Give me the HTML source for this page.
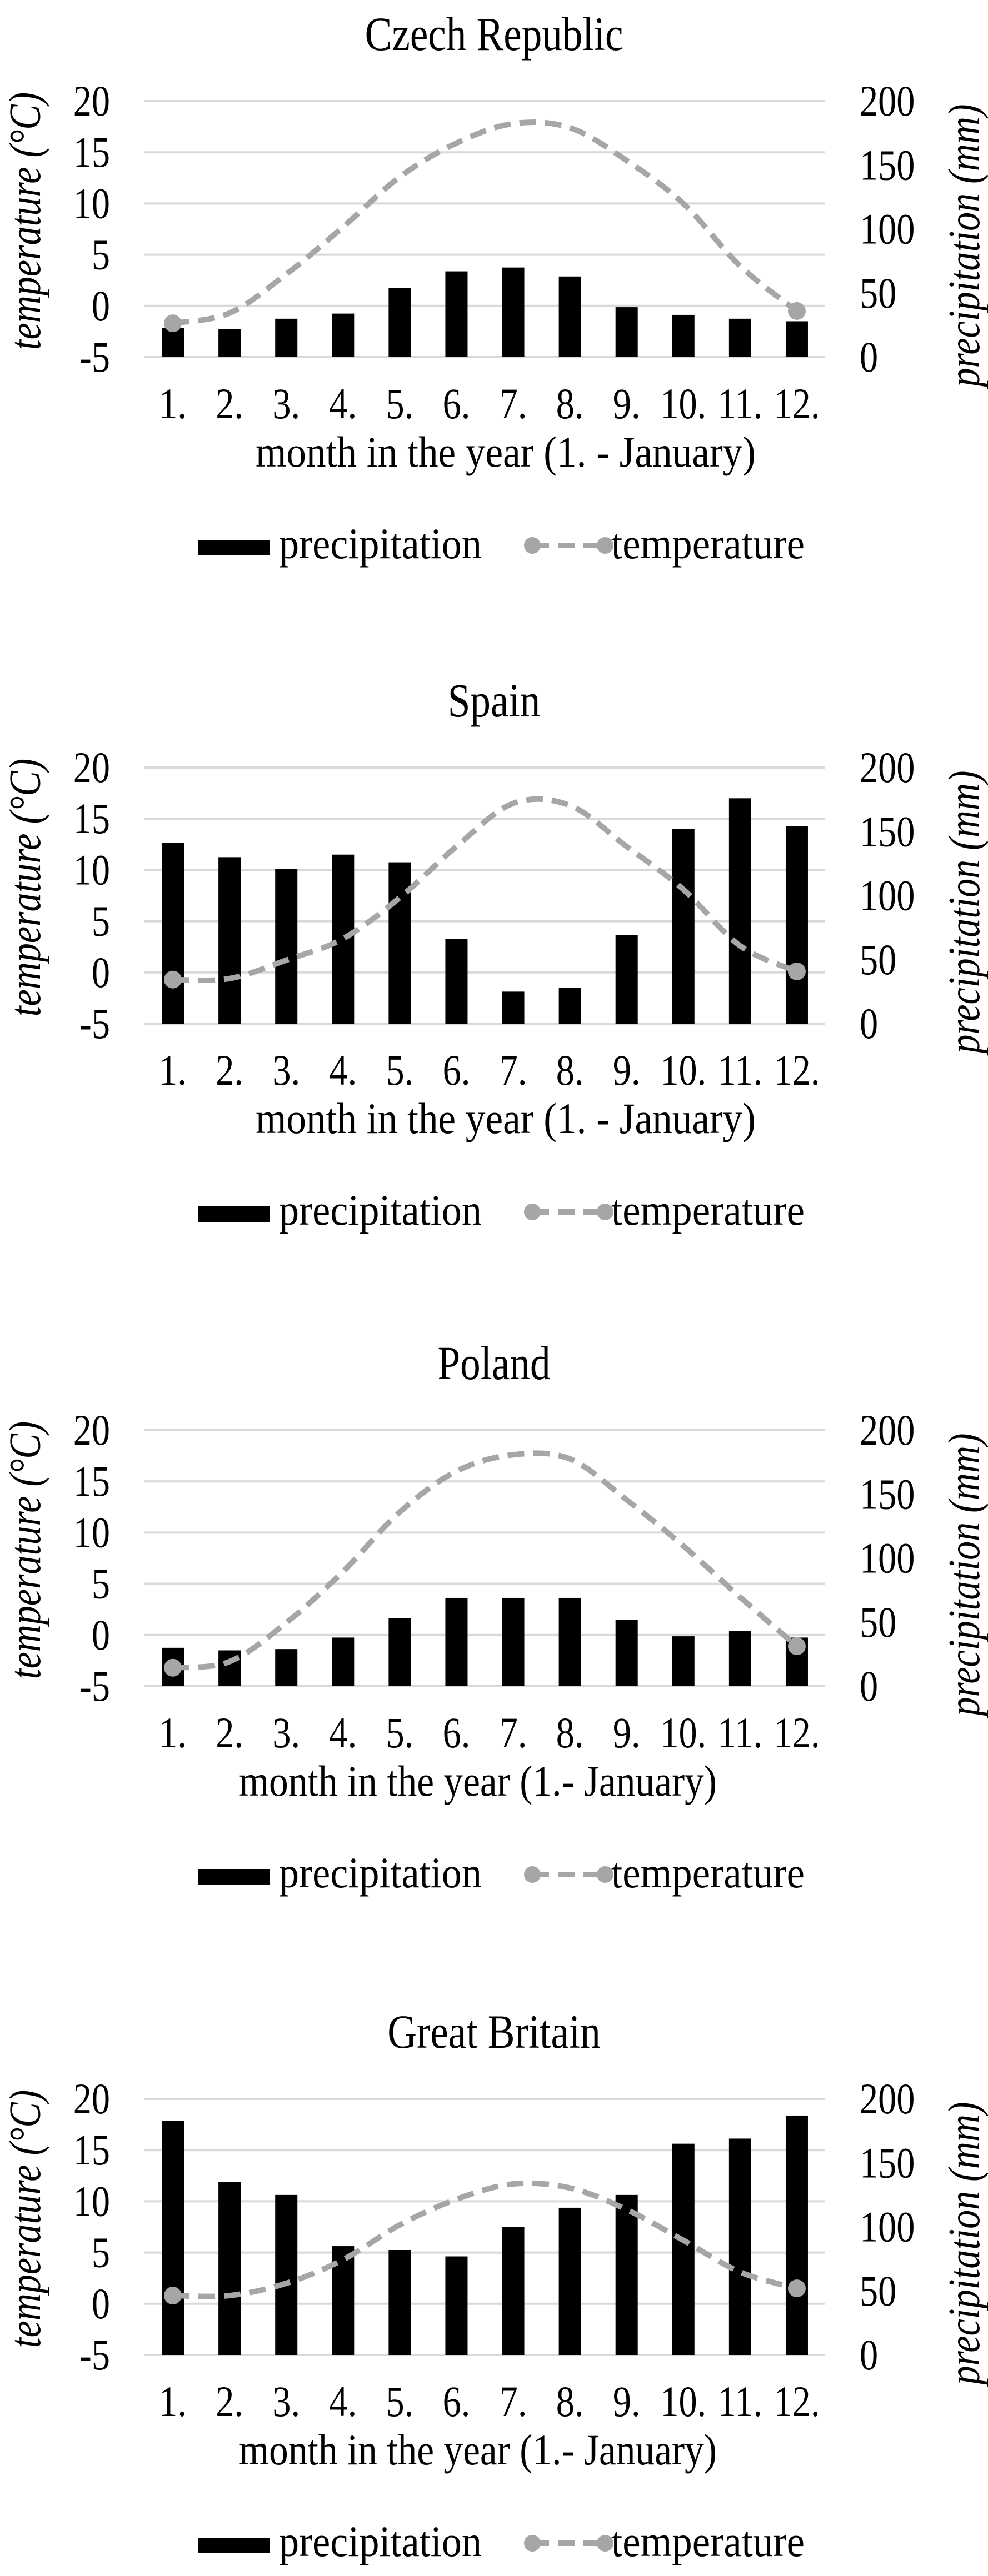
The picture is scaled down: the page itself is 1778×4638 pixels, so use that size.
<!DOCTYPE html>
<html><head><meta charset="utf-8"><style>
html,body{margin:0;padding:0;background:#fff;}
svg{display:block;font-family:"Liberation Serif",serif;}
</style></head><body>
<svg id="chart" width="1778" height="4638" viewBox="0 0 1778 4638" xmlns="http://www.w3.org/2000/svg"></svg>
<script>
const countries = ["Czech Republic","Spain","Poland","Great Britain"];
const xTitles = ["month in the year (1. - January)","month in the year (1. - January)","month in the year (1.- January)","month in the year (1.- January)"];
const months = ["1.","2.","3.","4.","5.","6.","7.","8.","9.","10.","11.","12."];
const tempTicks = [-5,0,5,10,15,20];
const precTicks = [0,50,100,150,200];
const precCZ = [23,22,30,34,54,67,70,63,39,33,30,28];
const tempCZ = [-1.7,-0.7,3.1,7.7,12.6,15.9,17.8,17.4,14.2,10,3.9,-0.5];
const precES = [141,130,121,132,126,66,25,28,69,152,176,154];
const tempES = [-0.7,-0.6,1.2,3.3,7.3,12.3,16.5,16.3,12.3,8.1,2.6,0.1];
const precPL = [30,28,29,38,53,69,69,69,52,39,43,38];
const tempPL = [-3.2,-2.6,1.2,6.2,12,16,17.6,17.2,13.2,8.7,3.7,-1.1];
const precGB = [183,135,125,85,82,77,100,115,125,165,169,187];
const tempGB = [0.8,0.8,2,4.3,7.7,10.2,11.7,11.3,9.2,6.2,3.1,1.5];
const precAll = [precCZ,precES,precPL,precGB];
const tempAll = [tempCZ,tempES,tempPL,tempGB];

const NS="http://www.w3.org/2000/svg";
const svg=document.getElementById('chart');
function mk(tag,attrs,parent,text){const e=document.createElementNS(NS,tag);for(const k in attrs)e.setAttribute(k,attrs[k]);if(text!==undefined)e.textContent=text;(parent||svg).appendChild(e);return e;}
// condensed text helper: tall narrow glyphs like the reference
function ctext(x,y,str,anchor,parent,extra,rot){
  const a=Object.assign({x:0,y:0,'text-anchor':anchor,'font-size':78,transform:`translate(${x},${y})${rot?' rotate(-90)':''} scale(0.85,1)`},extra||{});
  return mk('text',a,parent,str);
}
const offsets=[0,1200,2393,3597];
const X0=260,X1=1485,TOP=182,BOT=643;
const bw=(X1-X0)/12;
function xC(i){return X0+bw*(i+0.5);}
function yT(t,o){return o+BOT-(t+5)/25*(BOT-TOP);}
function yP(p,o){return o+BOT-p/200*(BOT-TOP);}

countries.forEach((name,ci)=>{
  const o=offsets[ci];
  const g=mk('g',{});
  
  
  const t=ctext(889,o+90,name,'middle',g,{'font-size':86});
  
  
  tempTicks.forEach(v=>{
    const y=yT(v,o);
    const l=mk('line',{x1:X0,x2:X1,y1:y,y2:y,stroke:'#d9d9d9','stroke-width':4},g);
    
    
    const tx=ctext(198,y+26,String(v),'end',g);
    
    
  });
  precTicks.forEach(v=>{
    const tx=ctext(1547,yP(v,o)+26,String(v),'start',g);
    
    
  });
  const lt=ctext(72,o+398,'temperature (°C)','middle',g,{'font-style':'italic','font-size':80},true);
  
  
  const rt=ctext(1762,o+442,'precipitation (mm)','middle',g,{'font-style':'italic','font-size':80},true);
  
  
  precAll[ci].forEach((p,i)=>{
    const y=yP(p,o);
    const r=mk('rect',{x:xC(i)-20,y:y,width:40,height:yP(0,o)-y,fill:'#000'},g);
    
    
  });
  months.forEach((m,i)=>{
    const tx=ctext(xC(i),o+753,m,'middle',g);
    
    
  });
  const xt=mk('text',{x:460,y:o+840,'font-size':78,textLength:ci<2?900:860,lengthAdjust:'spacingAndGlyphs'},g,xTitles[ci]);
  if(ci>=2) xt.setAttribute('x',430);
  
  
  const pts=tempAll[ci].map((v,i)=>[xC(i),yT(v,o)]);
  let d=`M${pts[0][0]},${pts[0][1]}`;
  for(let i=0;i<pts.length-1;i++){
    const p0=pts[Math.max(0,i-1)],p1=pts[i],p2=pts[i+1],p3=pts[Math.min(pts.length-1,i+2)];
    const c1=[p1[0]+(p2[0]-p0[0])/6,p1[1]+(p2[1]-p0[1])/6];
    const c2=[p2[0]-(p3[0]-p1[0])/6,p2[1]-(p3[1]-p1[1])/6];
    d+=` C${c1[0]},${c1[1]} ${c2[0]},${c2[1]} ${p2[0]},${p2[1]}`;
  }
  const path=mk('path',{d:d,fill:'none',stroke:'#a6a6a6','stroke-width':10,'stroke-dasharray':'30,16'},g);
  
  
  [0,11].forEach(i=>{
    const c=mk('circle',{cx:pts[i][0],cy:pts[i][1],r:16,fill:'#a6a6a6'},g);
    
    
  });
  const ly=o+986;
  const sw=mk('rect',{x:356,y:ly-14,width:129,height:28,fill:'#000'},g);
  
  
  const lp=mk('text',{x:502,y:o+1005,'font-size':78,textLength:365,lengthAdjust:'spacingAndGlyphs'},g,'precipitation');
  
  
  const ll=mk('line',{x1:958,x2:1089,y1:ly-4,y2:ly-4,stroke:'#a6a6a6','stroke-width':10,'stroke-dasharray':'30,16'},g);
  
  
  [958,1089].forEach(cx=>{
    const c=mk('circle',{cx:cx,cy:ly-4,r:15,fill:'#a6a6a6'},g);
    
    
  });
  const lt2=mk('text',{x:1100,y:o+1005,'font-size':78,textLength:348,lengthAdjust:'spacingAndGlyphs'},g,'temperature');
  
  
});
</script>
</body></html>
